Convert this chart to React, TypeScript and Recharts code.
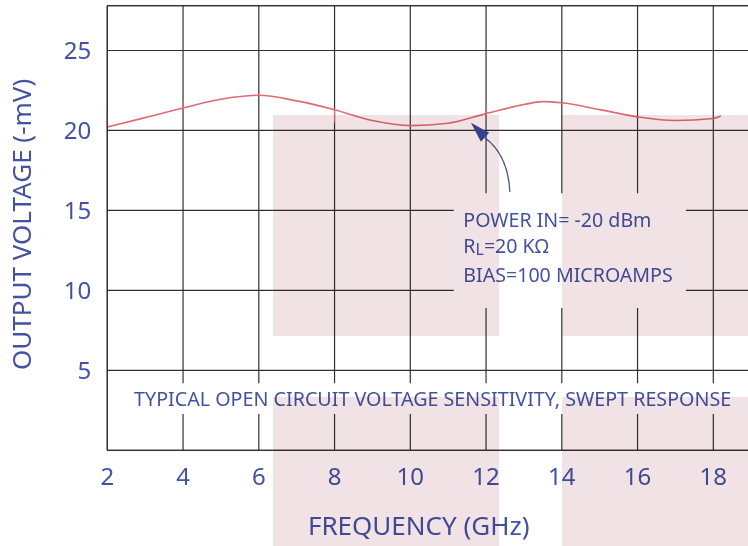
import React from 'react';
import {
  LineChart,
  Line,
  XAxis,
  YAxis,
  CartesianGrid,
  ReferenceArea,
  ReferenceLine,
  ReferenceDot,
} from 'recharts';

// ---- data ----
const frequencies = [2, 3, 4, 5, 6, 7, 8, 9, 10, 11, 12, 13, 13.5, 14, 15, 16, 17, 18, 18.2];
const voltages = [20.22, 20.8, 21.4, 21.95, 22.2, 21.85, 21.3, 20.62, 20.3, 20.45, 21.05, 21.62, 21.8, 21.73, 21.3, 20.85, 20.62, 20.75, 20.9];
const xTicks = [2, 4, 6, 8, 10, 12, 14, 16, 18];
const yTicks = [5, 10, 15, 20, 25];
const xDomain = [2, 19.233];
const yDomain = [0, 27.8];
const markerFreqs = [2, 4, 8, 12];
const markerLows = [20.2, 21.3, 20.5, 20.96];
const markerHighs = [21.45, 21.9, 21.3, 21.5];

const xTitle = 'FREQUENCY (GHz)';
const yTitle = 'OUTPUT VOLTAGE (-mV)';
const captionText = 'TYPICAL OPEN CIRCUIT VOLTAGE SENSITIVITY, SWEPT RESPONSE';
const noteLines = ['POWER IN= -20 dBm', 'BIAS=100 MICROAMPS'];

const chartData = frequencies.map((f, i) => ({ f, v: voltages[i] }));

const FONT = "'Noto Sans', sans-serif";
const BLUE = '#4352a3';
const GRID = '#303030';
const CURVE = '#e06a76';

const noteShape = (props: any) => {
  const { cx, cy } = props;
  return (
    <text x={cx} y={cy} fill={BLUE} fontFamily={FONT} fontSize={19.6}>
      <tspan x={cx} y={cy}>{noteLines[0]}</tspan>
      <tspan x={cx} y={cy + 26.5}>R</tspan>
      <tspan dy={2} fontSize={16}>L</tspan>
      <tspan dy={-2}>{'=20 K\u03A9'}</tspan>
      <tspan x={cx} y={cy + 55}>{noteLines[1]}</tspan>
    </text>
  );
};

const captionShape = (props: any) => {
  const { cx, cy } = props;
  return (
    <text x={cx} y={cy} fill={BLUE} fontFamily={FONT} fontSize={19.7} textAnchor="middle">
      {captionText}
    </text>
  );
};

const arrowShape = (props: any) => {
  const { cx, cy } = props;
  return (
    <g>
      <path
        d={`M${cx + 14},${cy + 15} Q${cx + 37},${cy + 32} ${cx + 39},${cy + 69}`}
        fill="none"
        stroke="#4a5288"
        strokeWidth={1.3}
      />
      <path
        d={`M${cx},${cy} L${cx + 18.3},${cy + 10} L${cx + 10},${cy + 19} Z`}
        fill="#3a4a9a"
      />
    </g>
  );
};

const overlays = [
  { left: 273, top: 115, width: 226, height: 221 },
  { left: 562, top: 115, width: 186, height: 221 },
  { left: 273, top: 397, width: 226, height: 149 },
  { left: 562, top: 397, width: 186, height: 149 },
];

export default function App() {
  return (
    <div style={{ position: 'absolute', left: 0, top: 0, width: 748, height: 546, background: '#fff', overflow: 'hidden' }}>
      <LineChart
        width={760}
        height={546}
        data={chartData}
        margin={{ top: 5.7, right: 0, left: 0, bottom: 0 }}
      >
        <CartesianGrid stroke={GRID} strokeWidth={1.2} />
        <XAxis
          dataKey="f"
          type="number"
          domain={xDomain}
          ticks={xTicks}
          allowDataOverflow
          tickLine={false}
          tickSize={0}
          tickMargin={18}
          height={95.7}
          axisLine={{ stroke: GRID, strokeWidth: 1.2 }}
          tick={{ fill: BLUE, fontSize: 24, fontFamily: FONT }}
          label={{
            content: () => (
              <text x={418.7} y={535} textAnchor="middle" fill={BLUE} fontFamily={FONT} fontSize={26}>
                {xTitle}
              </text>
            ),
          }}
        />
        <YAxis
          type="number"
          domain={yDomain}
          ticks={yTicks}
          allowDataOverflow
          width={107.3}
          tickLine={false}
          tickSize={0}
          tickMargin={16}
          axisLine={{ stroke: GRID, strokeWidth: 1.2 }}
          tick={{ fill: BLUE, fontSize: 24, fontFamily: FONT }}
          label={{
            content: () => (
              <text
                x={31}
                y={370}
                transform="rotate(-90 31 370)"
                textAnchor="start"
                fill={BLUE}
                fontFamily={FONT}
                fontSize={26}
              >
                {yTitle}
              </text>
            ),
          }}
        />
        <ReferenceLine y={yDomain[1]} stroke={GRID} strokeWidth={1.2} />
        <ReferenceArea x1={11.15} x2={17.28} y1={8.89} y2={16.08} fill="#ffffff" fillOpacity={1} stroke="none" />
        <ReferenceArea x1={2.04} x2={xDomain[1]} y1={2.27} y2={4.19} fill="#ffffff" fillOpacity={1} stroke="none" />
        <Line
          type="monotone"
          dataKey="v"
          stroke={CURVE}
          strokeWidth={1.6}
          dot={false}
          isAnimationActive={false}
        />
        {markerFreqs.map((f, i) => (
          <ReferenceLine
            key={f}
            segment={[{ x: f, y: markerLows[i] }, { x: f, y: markerHighs[i] }]}
            stroke={CURVE}
            strokeWidth={1.2}
          />
        ))}
        <ReferenceDot x={11.6} y={20.475} r={0} shape={arrowShape} />
        <ReferenceDot x={11.4} y={13.975} r={0} shape={noteShape} />
        <ReferenceDot x={10.59} y={2.77} r={0} shape={captionShape} />
      </LineChart>
      {overlays.map((o, i) => (
        <div
          key={i}
          style={{
            position: 'absolute',
            left: o.left,
            top: o.top,
            width: o.width,
            height: o.height,
            background: '#f1e3e5',
            mixBlendMode: 'multiply',
            pointerEvents: 'none',
          }}
        />
      ))}
    </div>
  );
}
